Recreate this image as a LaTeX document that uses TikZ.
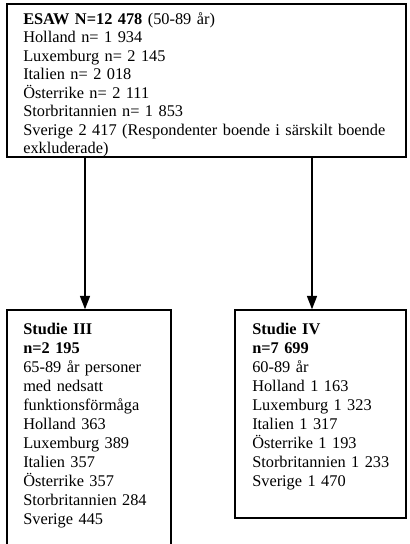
\documentclass[tikz,border=0pt]{standalone}
\usepackage{fontspec}
\setmainfont{Liberation Serif}
\usetikzlibrary{arrows.meta,fit}
\begin{document}
\begin{tikzpicture}[x=0.75pt,y=-0.75pt,
  boxstyle/.style={draw, line width=1.1pt, inner sep=0pt},
  txt/.style={anchor=base west, inner sep=0pt, align=left, font=\fontsize{12.25}{13.9}\selectfont},
  txtb/.style={txt, font=\fontsize{12.25}{14.3}\selectfont},
  arr/.style={line width=1.1pt, -{Triangle[length=10pt,width=7.5pt]}}]
\useasboundingbox (0,0) rectangle (410,544);
\node[boxstyle, fit={(7,4) (406,157)}] (top) {};
\node[boxstyle, fit={(7,310) (171,570)}] (left) {};
\node[boxstyle, fit={(235,310) (406,518)}] (right) {};
\coordinate (ax) at (85,0);
\coordinate (bx) at (312,0);
\draw[arr] (top.south -| ax) -- (left.north -| ax);
\draw[arr] (top.south -| bx) -- (right.north -| bx);
\node[txt, text width=300pt] (ttop) at (23,24) {\textbf{ESAW N=12 478} (50-89 år)\\
Holland n= 1 934\\
Luxemburg n= 2 145\\
Italien n= 2 018\\
Österrike n= 2 111\\
Storbritannien n= 1 853\\
Sverige 2 417 (Respondenter boende i särskilt boende\\
exkluderade)};
\node[txtb, text width=150pt] (tleft) at (23,334) {\textbf{Studie III}\\
\textbf{n=2 195}\\
65-89 år personer\\
med nedsatt\\
funktionsförmåga\\
Holland 363\\
Luxemburg 389\\
Italien 357\\
Österrike 357\\
Storbritannien 284\\
Sverige 445};
\node[txtb, text width=150pt] (tright) at (252,334) {\textbf{Studie IV}\\
\textbf{n=7 699}\\
60-89 år\\
Holland 1 163\\
Luxemburg 1 323\\
Italien 1 317\\
Österrike 1 193\\
Storbritannien 1 233\\
Sverige 1 470};
\end{tikzpicture}
\end{document}
